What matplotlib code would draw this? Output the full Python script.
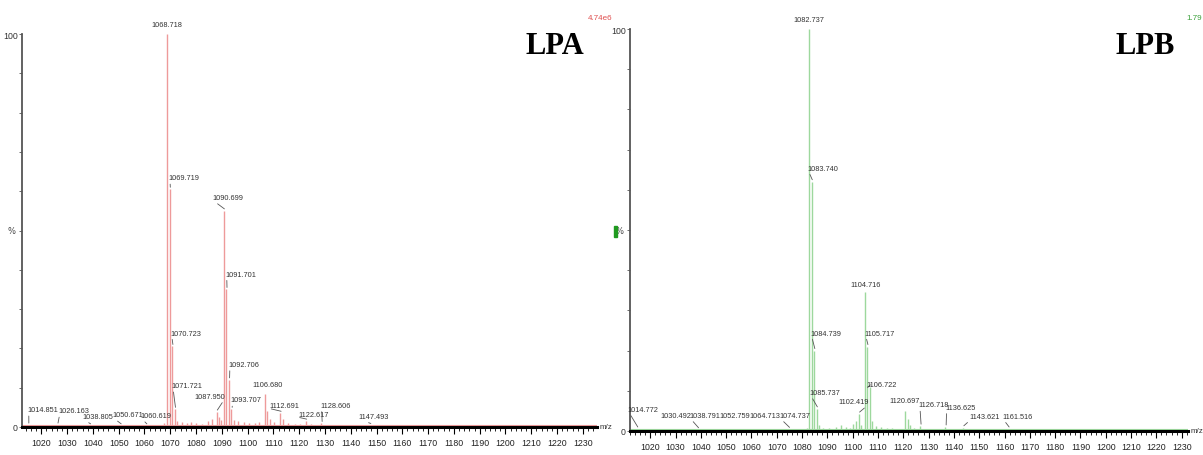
import numpy as np
import matplotlib.pyplot as plt
from matplotlib.ticker import MultipleLocator, FixedLocator

# ---------------------------------------------------------------------------
# peak lists (m/z, relative intensity %)
# ---------------------------------------------------------------------------
lpa_mz = [1014.851, 1026.163, 1038.805, 1050.671, 1060.619, 1067.7, 1068.718,
          1069.719, 1070.723, 1071.721, 1072.7, 1074.5, 1076.4, 1078.2, 1080.1,
          1082.3, 1084.6, 1086.2, 1087.950, 1088.9, 1089.7, 1090.699, 1091.701,
          1092.706, 1093.707, 1094.7, 1096.2, 1098.5, 1100.7, 1102.9, 1104.6,
          1106.680, 1107.7, 1108.7, 1110.4, 1112.691, 1113.7, 1115.5, 1118.2,
          1120.4, 1122.617, 1124.5, 1126.3, 1128.606, 1131.0, 1134.2, 1138.5,
          1147.493]
lpa_int = [0.5, 0.5, 0.3, 0.3, 0.3, 1.0, 100.0,
           60.5, 20.5, 4.5, 1.5, 1.2, 1.0, 1.3, 1.0,
           0.8, 1.5, 2.0, 3.8, 2.5, 1.8, 55.0, 35.0,
           12.0, 4.5, 1.8, 1.5, 1.2, 1.0, 1.0, 1.2,
           8.5, 4.0, 2.0, 1.2, 3.5, 2.0, 1.0, 0.8,
           0.8, 1.5, 0.8, 0.6, 0.9, 0.5, 0.4, 0.3,
           0.4]
lpa_labels = ['1014.851', '1026.163', '1038.805', '1050.671', '1060.619',
              '1068.718', '1069.719', '1070.723', '1071.721', '1087.950',
              '1090.699', '1091.701', '1092.706', '1093.707', '1106.680',
              '1112.691', '1122.617', '1128.606', '1147.493']

lpb_mz = [1014.772, 1030.492, 1038.791, 1052.759, 1064.713, 1074.737, 1081.8,
          1082.737, 1083.740, 1084.739, 1085.737, 1086.7, 1088.3, 1090.5,
          1093.6, 1095.2, 1097.4, 1099.1, 1100.3, 1101.4, 1102.419, 1103.4,
          1104.716, 1105.717, 1106.722, 1107.7, 1109.3, 1111.2, 1113.4, 1115.6,
          1117.9, 1120.697, 1121.7, 1122.7, 1124.1, 1126.718, 1129.4, 1132.8,
          1136.625, 1139.6, 1143.621, 1150.2, 1161.516]
lpb_int = [0.5, 0.3, 0.3, 0.3, 0.3, 0.4, 0.8,
           100.0, 62.0, 20.0, 5.5, 1.5, 0.8, 0.7,
           1.0, 1.5, 1.0, 0.8, 1.8, 2.5, 4.2, 1.5,
           34.5, 21.0, 11.0, 2.5, 1.2, 1.0, 0.8, 0.7,
           0.6, 5.0, 3.0, 1.5, 0.8, 1.2, 0.6, 0.6,
           1.0, 0.5, 0.8, 0.3, 0.5]
lpb_labels = ['1014.772', '1030.492', '1038.791', '1052.759', '1064.713',
              '1074.737', '1082.737', '1083.740', '1084.739', '1085.737',
              '1102.419', '1104.716', '1105.717', '1106.722', '1120.697',
              '1126.718', '1136.625', '1143.621', '1161.516']

# where each annotation sits (text centre m/z, text bottom %) - layout only
lpa_text_pos = [(1020.5, 3.5), (1032.5, 3.2), (1042.0, 1.8), (1053.5, 2.2),
                (1064.5, 2.0), (1068.718, 101.5), (1075.3, 62.5), (1076.0, 23.0),
                (1076.5, 9.6), (1085.5, 6.9), (1092.3, 57.5), (1097.3, 38.0),
                (1098.5, 15.0), (1099.5, 6.0), (1107.6, 10.0), (1114.4, 4.6),
                (1125.5, 2.4), (1134.0, 4.6), (1149.0, 1.8)]
lpb_text_pos = [(1017.2, 4.5), (1030.0, 3.0), (1041.5, 3.0), (1053.5, 3.0),
                (1065.3, 3.0), (1077.1, 3.0), (1082.737, 101.5), (1088.1, 64.5),
                (1089.3, 23.5), (1089.0, 8.7), (1100.5, 6.4), (1105.0, 35.5),
                (1110.6, 23.5), (1111.3, 10.8), (1120.5, 6.6), (1132.0, 5.6),
                (1142.5, 5.0), (1152.0, 2.8), (1165.0, 2.8)]

LAB_FONT = ['Liberation Sans', 'DejaVu Sans']
W, H = 1203, 456


def draw_spectrum(ax, mz, inten, labels, text_pos, color):
    ax.vlines(mz, 0, inten, color=color, lw=1.0)
    ax.axhline(0.5, color=color, lw=0.8, zorder=1)
    peak_h = dict(zip(mz, inten))
    for lab, (tx, ty) in zip(labels, text_pos):
        px = float(lab)
        py = peak_h[px]
        if abs(tx - px) > 1.0:
            # label set aside from its peak, joined by a short leader
            rel = (0.05, 0.0) if px < tx else (0.95, 0.0)
            ax.annotate(lab, xy=(px + 0.3, py + 0.5), xytext=(tx, ty),
                        textcoords='data', ha='center', va='bottom',
                        fontsize=5.3, family=LAB_FONT, color='#333333',
                        annotation_clip=False,
                        arrowprops=dict(arrowstyle='-', color='#555555',
                                        lw=0.6, shrinkA=0, shrinkB=0,
                                        relpos=rel))
        else:
            ax.text(tx, ty, lab, ha='center', va='bottom', fontsize=5.3,
                    family=LAB_FONT, color='#333333', clip_on=False)

    ax.set_ylim(0, 100)
    for s in ['top', 'right']:
        ax.spines[s].set_visible(False)
    ax.spines['left'].set_color('#555555')
    ax.spines['left'].set_linewidth(1.3)
    ax.spines['bottom'].set_color('black')
    ax.spines['bottom'].set_linewidth(2.2)
    ax.spines['bottom'].set_zorder(5)

    ax.xaxis.set_minor_locator(MultipleLocator(2))
    ax.set_xticks(np.arange(1020, 1231, 10))
    ax.tick_params(axis='x', which='major', length=5, width=0.8,
                   labelsize=6.3, pad=3, labelcolor='#222222')
    ax.tick_params(axis='x', which='minor', length=3, width=0.6)
    for t in ax.get_xticklabels():
        t.set_family(LAB_FONT)

    ax.yaxis.set_major_locator(FixedLocator([0, 100]))
    ax.yaxis.set_minor_locator(MultipleLocator(10))
    ax.set_yticklabels(['0', '100'])
    ax.tick_params(axis='y', which='both', length=2, width=0.6,
                   color='#555555', labelsize=6.3, pad=1,
                   labelcolor='#333333')
    for t in ax.get_yticklabels():
        t.set_family(LAB_FONT)
    ax.text(-0.012, 0.5, '%', transform=ax.transAxes, ha='right',
            va='center', fontsize=6, color='#444444')
    ax.text(1.004, 0.0, 'm/z', transform=ax.transAxes, ha='left',
            va='center', fontsize=5.8, family=LAB_FONT, color='#333333')


fig = plt.figure(figsize=(12.03, 4.56), dpi=100)

ax1 = fig.add_axes([22 / W, 28 / H, 575 / W, 393 / H])
draw_spectrum(ax1, lpa_mz, lpa_int, lpa_labels, lpa_text_pos, '#ee9a9a')
ax1.set_xlim(1012.5, 1235.5)

ax2 = fig.add_axes([630 / W, 24 / H, 558 / W, 402 / H])
draw_spectrum(ax2, lpb_mz, lpb_int, lpb_labels, lpb_text_pos, '#9dd89d')
ax2.set_xlim(1012.0, 1232.5)

fig.text(555 / W, 1 - 47 / H, 'LPA', ha='center', va='center',
         fontsize=22, fontweight='bold', family='Liberation Serif')
fig.text(1145 / W, 1 - 47 / H, 'LPB', ha='center', va='center',
         fontsize=22, fontweight='bold', family='Liberation Serif')
fig.text(600 / W, 1 - 18 / H, '4.74e6', ha='center', va='center',
         fontsize=5.8, family=LAB_FONT, color='#e05050')
fig.text(1202 / W, 1 - 18 / H, '1.79', ha='right', va='center',
         fontsize=5.8, family=LAB_FONT, color='#3aa03a')
# small green marker beside the right-hand % label
fig.patches.append(plt.Rectangle((614 / W, 1 - 238 / H), 2.5 / W, 11 / H,
                                 transform=fig.transFigure, color='#1f9a1f'))

fig.savefig('out.png', dpi=100)
